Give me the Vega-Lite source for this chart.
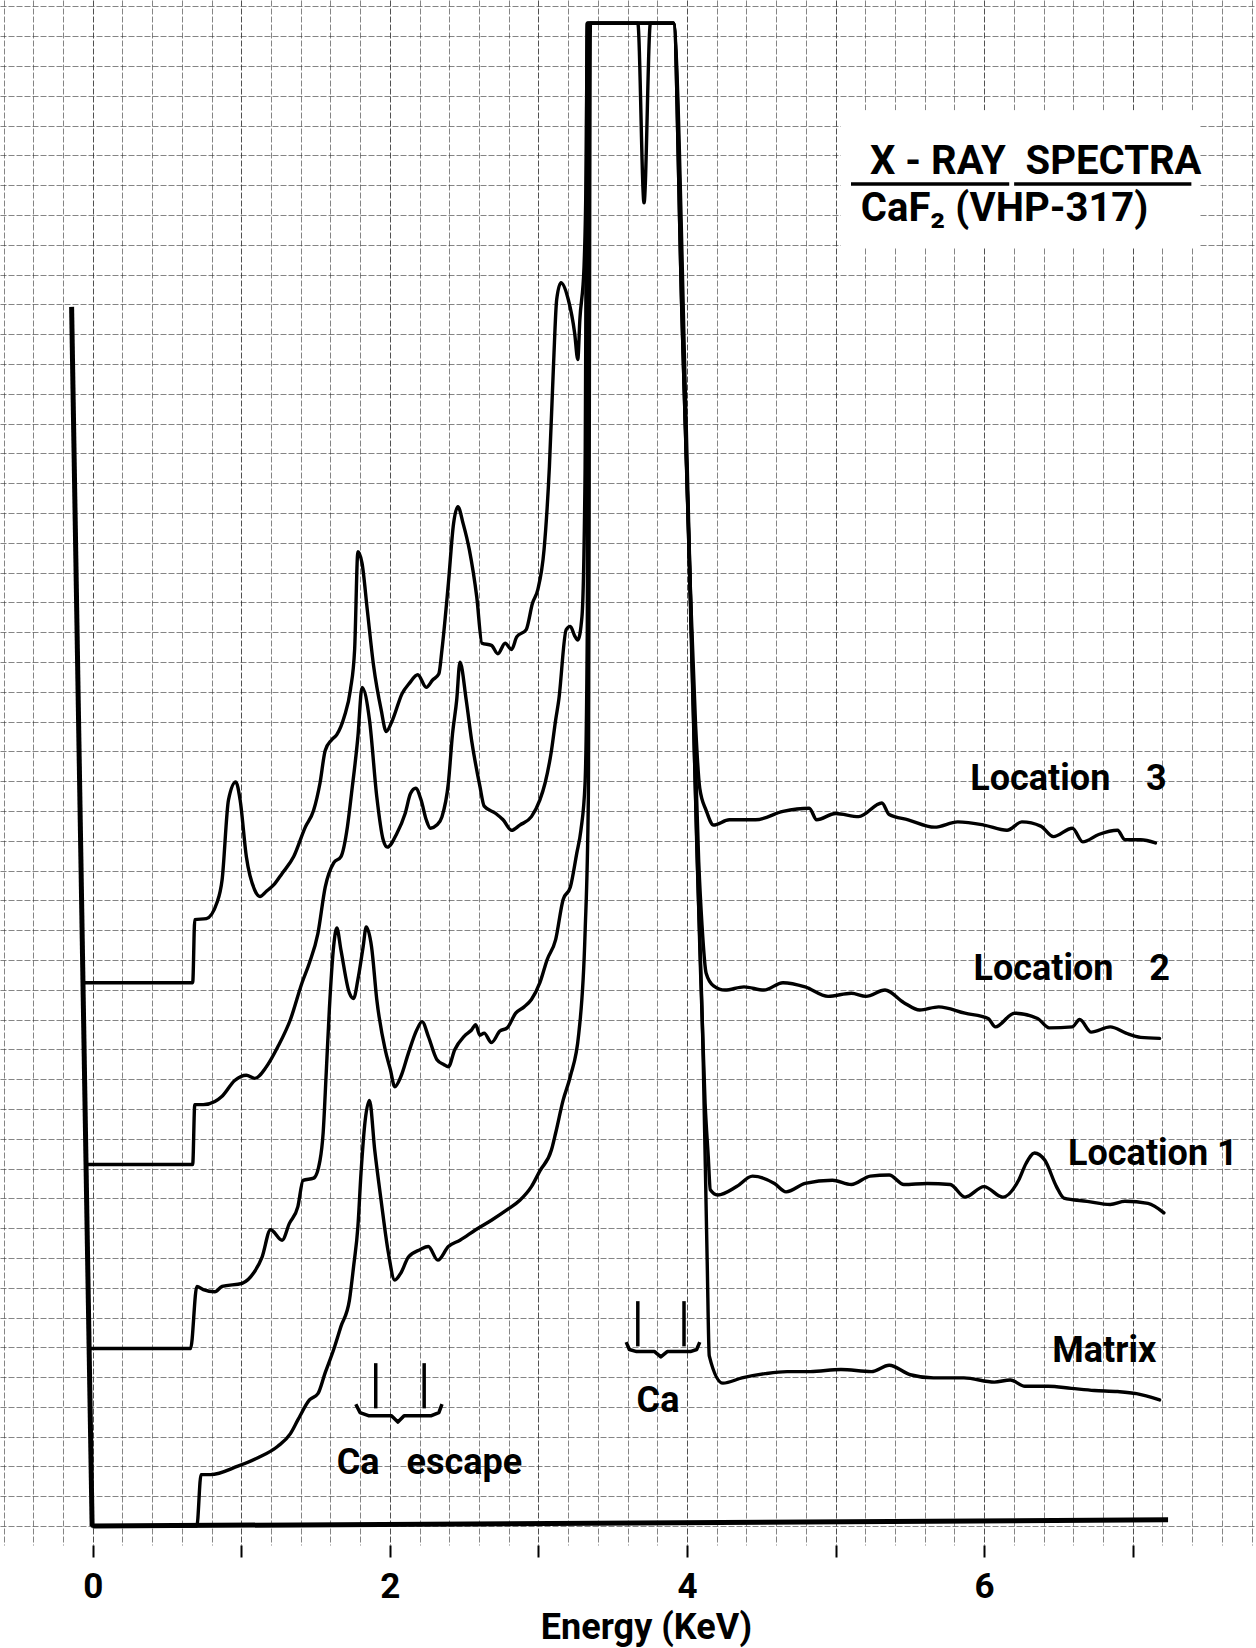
{
"$schema": "https://vega.github.io/schema/vega-lite/v6.json",
"width": 1256, "height": 1545,
"autosize": {"type": "none"},
"padding": {"left": 0, "top": 0, "right": 0, "bottom": 103},
"background": "white",
"config": {"view": {"stroke": null}},
"datasets": {
"box": [{"x": 5.036, "x2": 7.45, "y": 1217, "y2": 1347}],
"traces": [
{"s":"L3","x":-0.067,"y":517},{"s":"L3","x":0.673,"y":517},{"s":"L3","x":0.687,"y":577},{"s":"L3","x":0.765,"y":578},{"s":"L3","x":0.836,"y":593},{"s":"L3","x":0.871,"y":615},{"s":"L3","x":0.914,"y":691},{"s":"L3","x":0.963,"y":708},{"s":"L3","x":0.992,"y":691},{"s":"L3","x":1.034,"y":637},{"s":"L3","x":1.091,"y":605},{"s":"L3","x":1.126,"y":599},{"s":"L3","x":1.169,"y":604},{"s":"L3","x":1.218,"y":610},{"s":"L3","x":1.275,"y":621},{"s":"L3","x":1.353,"y":637},{"s":"L3","x":1.431,"y":665},{"s":"L3","x":1.487,"y":681},{"s":"L3","x":1.530,"y":707},{"s":"L3","x":1.565,"y":738},{"s":"L3","x":1.608,"y":748},{"s":"L3","x":1.643,"y":753},{"s":"L3","x":1.693,"y":770},{"s":"L3","x":1.735,"y":796},{"s":"L3","x":1.763,"y":834},{"s":"L3","x":1.785,"y":927},{"s":"L3","x":1.813,"y":916},{"s":"L3","x":1.848,"y":872},{"s":"L3","x":1.891,"y":818},{"s":"L3","x":1.941,"y":777},{"s":"L3","x":1.976,"y":756},{"s":"L3","x":2.018,"y":767},{"s":"L3","x":2.082,"y":792},{"s":"L3","x":2.132,"y":802},{"s":"L3","x":2.188,"y":810},{"s":"L3","x":2.245,"y":798},{"s":"L3","x":2.288,"y":805},{"s":"L3","x":2.330,"y":811},{"s":"L3","x":2.351,"y":834},{"s":"L3","x":2.394,"y":897},{"s":"L3","x":2.429,"y":954},{"s":"L3","x":2.458,"y":970},{"s":"L3","x":2.493,"y":954},{"s":"L3","x":2.535,"y":929},{"s":"L3","x":2.585,"y":884},{"s":"L3","x":2.620,"y":840},{"s":"L3","x":2.684,"y":838},{"s":"L3","x":2.727,"y":830},{"s":"L3","x":2.776,"y":840},{"s":"L3","x":2.819,"y":834},{"s":"L3","x":2.854,"y":846},{"s":"L3","x":2.918,"y":853},{"s":"L3","x":2.960,"y":878},{"s":"L3","x":2.996,"y":891},{"s":"L3","x":3.038,"y":929},{"s":"L3","x":3.074,"y":1008},{"s":"L3","x":3.102,"y":1106},{"s":"L3","x":3.123,"y":1167},{"s":"L3","x":3.152,"y":1183},{"s":"L3","x":3.201,"y":1167},{"s":"L3","x":3.244,"y":1135},{"s":"L3","x":3.265,"y":1110},{"s":"L3","x":3.279,"y":1148},{"s":"L3","x":3.307,"y":1198},{"s":"L3","x":3.322,"y":1302},{"s":"L3","x":3.329,"y":1430},{"s":"L3","x":3.909,"y":1430},{"s":"L3","x":3.966,"y":1152},{"s":"L3","x":4.023,"y":892},{"s":"L3","x":4.058,"y":762},{"s":"L3","x":4.086,"y":702},{"s":"L3","x":4.129,"y":681},{"s":"L3","x":4.179,"y":667},{"s":"L3","x":4.285,"y":672},{"s":"L3","x":4.462,"y":672},{"s":"L3","x":4.646,"y":680},{"s":"L3","x":4.823,"y":683},{"s":"L3","x":4.873,"y":672},{"s":"L3","x":5.000,"y":678},{"s":"L3","x":5.156,"y":675},{"s":"L3","x":5.312,"y":688},{"s":"L3","x":5.361,"y":677},{"s":"L3","x":5.489,"y":672},{"s":"L3","x":5.666,"y":665},{"s":"L3","x":5.822,"y":670},{"s":"L3","x":5.999,"y":667},{"s":"L3","x":6.154,"y":662},{"s":"L3","x":6.254,"y":670},{"s":"L3","x":6.381,"y":666},{"s":"L3","x":6.466,"y":656},{"s":"L3","x":6.594,"y":664},{"s":"L3","x":6.664,"y":651},{"s":"L3","x":6.771,"y":658},{"s":"L3","x":6.898,"y":662},{"s":"L3","x":6.948,"y":653},{"s":"L3","x":7.054,"y":653},{"s":"L3","x":7.153,"y":650},
{"s":"L2","x":-0.046,"y":344},{"s":"L2","x":0.673,"y":344},{"s":"L2","x":0.687,"y":401},{"s":"L2","x":0.744,"y":401},{"s":"L2","x":0.822,"y":404},{"s":"L2","x":0.871,"y":409},{"s":"L2","x":0.956,"y":424},{"s":"L2","x":1.034,"y":429},{"s":"L2","x":1.091,"y":426},{"s":"L2","x":1.169,"y":437},{"s":"L2","x":1.246,"y":456},{"s":"L2","x":1.331,"y":482},{"s":"L2","x":1.409,"y":517},{"s":"L2","x":1.459,"y":536},{"s":"L2","x":1.516,"y":564},{"s":"L2","x":1.565,"y":608},{"s":"L2","x":1.622,"y":631},{"s":"L2","x":1.671,"y":637},{"s":"L2","x":1.714,"y":665},{"s":"L2","x":1.742,"y":697},{"s":"L2","x":1.785,"y":751},{"s":"L2","x":1.813,"y":798},{"s":"L2","x":1.863,"y":767},{"s":"L2","x":1.912,"y":694},{"s":"L2","x":1.955,"y":653},{"s":"L2","x":1.983,"y":646},{"s":"L2","x":2.047,"y":659},{"s":"L2","x":2.103,"y":678},{"s":"L2","x":2.139,"y":697},{"s":"L2","x":2.174,"y":702},{"s":"L2","x":2.210,"y":691},{"s":"L2","x":2.245,"y":672},{"s":"L2","x":2.273,"y":664},{"s":"L2","x":2.316,"y":667},{"s":"L2","x":2.351,"y":675},{"s":"L2","x":2.394,"y":707},{"s":"L2","x":2.422,"y":754},{"s":"L2","x":2.450,"y":786},{"s":"L2","x":2.472,"y":822},{"s":"L2","x":2.514,"y":786},{"s":"L2","x":2.550,"y":748},{"s":"L2","x":2.606,"y":704},{"s":"L2","x":2.635,"y":685},{"s":"L2","x":2.713,"y":678},{"s":"L2","x":2.762,"y":672},{"s":"L2","x":2.819,"y":662},{"s":"L2","x":2.875,"y":667},{"s":"L2","x":2.953,"y":675},{"s":"L2","x":3.010,"y":691},{"s":"L2","x":3.045,"y":707},{"s":"L2","x":3.088,"y":738},{"s":"L2","x":3.116,"y":767},{"s":"L2","x":3.137,"y":786},{"s":"L2","x":3.187,"y":853},{"s":"L2","x":3.215,"y":856},{"s":"L2","x":3.244,"y":847},{"s":"L2","x":3.265,"y":843},{"s":"L2","x":3.293,"y":865},{"s":"L2","x":3.314,"y":1002},{"s":"L2","x":3.329,"y":1430},{"s":"L2","x":3.909,"y":1430},{"s":"L2","x":3.966,"y":1152},{"s":"L2","x":4.030,"y":852},{"s":"L2","x":4.079,"y":632},{"s":"L2","x":4.101,"y":572},{"s":"L2","x":4.129,"y":526},{"s":"L2","x":4.179,"y":514},{"s":"L2","x":4.256,"y":510},{"s":"L2","x":4.384,"y":513},{"s":"L2","x":4.518,"y":510},{"s":"L2","x":4.646,"y":517},{"s":"L2","x":4.795,"y":513},{"s":"L2","x":4.950,"y":504},{"s":"L2","x":5.106,"y":507},{"s":"L2","x":5.205,"y":504},{"s":"L2","x":5.333,"y":510},{"s":"L2","x":5.460,"y":498},{"s":"L2","x":5.567,"y":491},{"s":"L2","x":5.694,"y":494},{"s":"L2","x":5.871,"y":488},{"s":"L2","x":6.027,"y":483},{"s":"L2","x":6.076,"y":475},{"s":"L2","x":6.204,"y":488},{"s":"L2","x":6.360,"y":483},{"s":"L2","x":6.438,"y":474},{"s":"L2","x":6.594,"y":475},{"s":"L2","x":6.643,"y":482},{"s":"L2","x":6.721,"y":470},{"s":"L2","x":6.849,"y":475},{"s":"L2","x":6.955,"y":469},{"s":"L2","x":7.054,"y":465},{"s":"L2","x":7.181,"y":464},
{"s":"L1","x":-0.025,"y":169},{"s":"L1","x":0.659,"y":169},{"s":"L1","x":0.701,"y":228},{"s":"L1","x":0.744,"y":225},{"s":"L1","x":0.822,"y":223},{"s":"L1","x":0.871,"y":228},{"s":"L1","x":1.006,"y":231},{"s":"L1","x":1.084,"y":241},{"s":"L1","x":1.140,"y":256},{"s":"L1","x":1.197,"y":282},{"s":"L1","x":1.275,"y":272},{"s":"L1","x":1.324,"y":288},{"s":"L1","x":1.381,"y":304},{"s":"L1","x":1.416,"y":329},{"s":"L1","x":1.487,"y":331},{"s":"L1","x":1.530,"y":348},{"s":"L1","x":1.551,"y":374},{"s":"L1","x":1.572,"y":432},{"s":"L1","x":1.593,"y":492},{"s":"L1","x":1.622,"y":552},{"s":"L1","x":1.643,"y":569},{"s":"L1","x":1.671,"y":548},{"s":"L1","x":1.728,"y":507},{"s":"L1","x":1.756,"y":502},{"s":"L1","x":1.785,"y":520},{"s":"L1","x":1.820,"y":551},{"s":"L1","x":1.841,"y":570},{"s":"L1","x":1.877,"y":551},{"s":"L1","x":1.912,"y":501},{"s":"L1","x":1.969,"y":453},{"s":"L1","x":2.004,"y":434},{"s":"L1","x":2.033,"y":418},{"s":"L1","x":2.075,"y":428},{"s":"L1","x":2.125,"y":450},{"s":"L1","x":2.181,"y":472},{"s":"L1","x":2.217,"y":480},{"s":"L1","x":2.259,"y":466},{"s":"L1","x":2.316,"y":444},{"s":"L1","x":2.365,"y":439},{"s":"L1","x":2.394,"y":437},{"s":"L1","x":2.436,"y":453},{"s":"L1","x":2.500,"y":466},{"s":"L1","x":2.550,"y":472},{"s":"L1","x":2.578,"y":477},{"s":"L1","x":2.606,"y":467},{"s":"L1","x":2.635,"y":469},{"s":"L1","x":2.684,"y":460},{"s":"L1","x":2.741,"y":471},{"s":"L1","x":2.790,"y":474},{"s":"L1","x":2.847,"y":488},{"s":"L1","x":2.904,"y":494},{"s":"L1","x":2.953,"y":501},{"s":"L1","x":3.010,"y":517},{"s":"L1","x":3.059,"y":539},{"s":"L1","x":3.116,"y":558},{"s":"L1","x":3.166,"y":596},{"s":"L1","x":3.215,"y":608},{"s":"L1","x":3.258,"y":640},{"s":"L1","x":3.286,"y":662},{"s":"L1","x":3.314,"y":707},{"s":"L1","x":3.329,"y":852},{"s":"L1","x":3.336,"y":1430},{"s":"L1","x":3.909,"y":1430},{"s":"L1","x":3.980,"y":1102},{"s":"L1","x":4.037,"y":802},{"s":"L1","x":4.086,"y":552},{"s":"L1","x":4.122,"y":402},{"s":"L1","x":4.143,"y":352},{"s":"L1","x":4.157,"y":320},{"s":"L1","x":4.207,"y":315},{"s":"L1","x":4.334,"y":323},{"s":"L1","x":4.441,"y":333},{"s":"L1","x":4.589,"y":326},{"s":"L1","x":4.667,"y":318},{"s":"L1","x":4.795,"y":326},{"s":"L1","x":4.979,"y":329},{"s":"L1","x":5.106,"y":325},{"s":"L1","x":5.234,"y":333},{"s":"L1","x":5.361,"y":334},{"s":"L1","x":5.460,"y":325},{"s":"L1","x":5.616,"y":326},{"s":"L1","x":5.772,"y":325},{"s":"L1","x":5.871,"y":313},{"s":"L1","x":5.999,"y":323},{"s":"L1","x":6.126,"y":313},{"s":"L1","x":6.232,"y":329},{"s":"L1","x":6.282,"y":345},{"s":"L1","x":6.339,"y":355},{"s":"L1","x":6.409,"y":348},{"s":"L1","x":6.487,"y":323},{"s":"L1","x":6.537,"y":312},{"s":"L1","x":6.693,"y":309},{"s":"L1","x":6.849,"y":306},{"s":"L1","x":6.948,"y":309},{"s":"L1","x":7.103,"y":307},{"s":"L1","x":7.210,"y":298},
{"s":"M","x":-0.004,"y":0},{"s":"M","x":0.701,"y":0},{"s":"M","x":0.729,"y":49},{"s":"M","x":0.793,"y":49},{"s":"M","x":0.977,"y":57},{"s":"M","x":1.112,"y":65},{"s":"M","x":1.246,"y":76},{"s":"M","x":1.331,"y":88},{"s":"M","x":1.381,"y":101},{"s":"M","x":1.459,"y":120},{"s":"M","x":1.516,"y":126},{"s":"M","x":1.565,"y":146},{"s":"M","x":1.622,"y":168},{"s":"M","x":1.671,"y":190},{"s":"M","x":1.728,"y":215},{"s":"M","x":1.756,"y":247},{"s":"M","x":1.785,"y":285},{"s":"M","x":1.806,"y":336},{"s":"M","x":1.834,"y":386},{"s":"M","x":1.863,"y":405},{"s":"M","x":1.898,"y":358},{"s":"M","x":1.941,"y":310},{"s":"M","x":1.990,"y":260},{"s":"M","x":2.033,"y":234},{"s":"M","x":2.075,"y":241},{"s":"M","x":2.125,"y":256},{"s":"M","x":2.203,"y":263},{"s":"M","x":2.259,"y":266},{"s":"M","x":2.323,"y":253},{"s":"M","x":2.394,"y":266},{"s":"M","x":2.472,"y":272},{"s":"M","x":2.578,"y":282},{"s":"M","x":2.684,"y":291},{"s":"M","x":2.790,"y":301},{"s":"M","x":2.875,"y":310},{"s":"M","x":2.953,"y":323},{"s":"M","x":3.010,"y":338},{"s":"M","x":3.088,"y":358},{"s":"M","x":3.116,"y":374},{"s":"M","x":3.166,"y":405},{"s":"M","x":3.215,"y":428},{"s":"M","x":3.272,"y":469},{"s":"M","x":3.314,"y":564},{"s":"M","x":3.336,"y":691},{"s":"M","x":3.350,"y":1430},{"s":"M","x":3.669,"y":1430},{"s":"M","x":3.711,"y":1259},{"s":"M","x":3.754,"y":1430},{"s":"M","x":3.909,"y":1430},{"s":"M","x":3.994,"y":1052},{"s":"M","x":4.065,"y":652},{"s":"M","x":4.108,"y":452},{"s":"M","x":4.136,"y":252},{"s":"M","x":4.150,"y":162},{"s":"M","x":4.242,"y":136},{"s":"M","x":4.370,"y":141},{"s":"M","x":4.526,"y":145},{"s":"M","x":4.674,"y":147},{"s":"M","x":4.830,"y":147},{"s":"M","x":5.036,"y":149},{"s":"M","x":5.241,"y":147},{"s":"M","x":5.361,"y":153},{"s":"M","x":5.503,"y":144},{"s":"M","x":5.659,"y":141},{"s":"M","x":5.864,"y":141},{"s":"M","x":6.069,"y":137},{"s":"M","x":6.176,"y":139},{"s":"M","x":6.275,"y":133},{"s":"M","x":6.431,"y":133},{"s":"M","x":6.587,"y":131},{"s":"M","x":6.742,"y":129},{"s":"M","x":6.898,"y":128},{"s":"M","x":7.026,"y":126},{"s":"M","x":7.181,"y":120}
],
"thick": [
{"s":"strobe","x":-0.142,"y":1160},{"s":"strobe","x":-0.004,"y":0},
{"s":"base","x":0,"y":0},{"s":"base","x":7.238,"y":6}
],
"annot": [
{"s":"et1","x":1.905,"y":155},{"s":"et1","x":1.905,"y":112},
{"s":"et2","x":2.231,"y":155},{"s":"et2","x":2.231,"y":112},
{"s":"eb","x":1.771,"y":116},{"s":"eb","x":1.799,"y":108},{"s":"eb","x":1.856,"y":105},{"s":"eb","x":2.011,"y":105},{"s":"eb","x":2.054,"y":99},{"s":"eb","x":2.096,"y":105},{"s":"eb","x":2.280,"y":105},{"s":"eb","x":2.330,"y":108},{"s":"eb","x":2.351,"y":116},
{"s":"ct1","x":3.669,"y":214},{"s":"ct1","x":3.669,"y":171},
{"s":"ct2","x":3.980,"y":214},{"s":"ct2","x":3.980,"y":171},
{"s":"cb","x":3.591,"y":175},{"s":"cb","x":3.612,"y":168},{"s":"cb","x":3.661,"y":166},{"s":"cb","x":3.782,"y":166},{"s":"cb","x":3.824,"y":161},{"s":"cb","x":3.867,"y":166},{"s":"cb","x":4.023,"y":166},{"s":"cb","x":4.065,"y":168},{"s":"cb","x":4.086,"y":175},
{"s":"ul1","x":5.104,"y":1277},{"s":"ul1","x":6.169,"y":1277},
{"s":"ul2","x":6.202,"y":1277},{"s":"ul2","x":7.395,"y":1277}
],
"labels": [
{"t":"Location\u00a0\u00a0\u00a0 3","x":5.907,"y":711},
{"t":"Location\u00a0\u00a0\u00a0 2","x":5.928,"y":530},
{"t":"Location 1","x":6.565,"y":354},
{"t":"Matrix","x":6.459,"y":167},
{"t":"Ca\u00a0\u00a0 escape","x":1.643,"y":60},
{"t":"Ca","x":3.661,"y":119}
],
"titles": [
{"t":"X - RAY\u00a0 SPECTRA","x":5.232,"y":1298},
{"t":"CaF\u2082 (VHP-317)","x":5.17,"y":1253}
]
},
"encoding": {
  "x": {"field": "x", "type": "quantitative",
   "scale": {"domain": [-0.624, 7.83], "nice": false, "zero": false},
   "axis": {"values": [-0.6,-0.4,-0.2,0,0.2,0.4,0.6,0.8,1,1.2,1.4,1.6,1.8,2,2.2,2.4,2.6,2.8,3,3.2,3.4,3.6,3.8,4,4.2,4.4,4.6,4.8,5,5.2,5.4,5.6,5.8,6,6.2,6.4,6.6,6.8,7,7.2,7.4,7.6,7.8],
    "grid": true, "gridColor": "#333", "gridDash": [6, 2], "gridWidth": 1,
    "gridOpacity": {"condition": {"test": "abs(datum.value - round(datum.value)) < 0.01", "value": 0.85}, "value": 0.6},
    "ticks": true, "tickSize": 12, "tickWidth": 2,
    "tickColor": {"condition": {"test": "abs(datum.value - round(datum.value)) < 0.01 && datum.value > -0.1 && datum.value < 7.3", "value": "black"}, "value": "transparent"},
    "domain": false,
    "labelExpr": "abs(datum.value - 2*round(datum.value/2)) < 0.01 && datum.value > -0.1 && datum.value < 7 ? format(round(datum.value), 'd') : ''",
    "labelFont": "Roboto", "labelFontSize": 35, "labelFontWeight": "bold", "labelColor": "black",
    "labelPadding": 12, "labelOverlap": false, "labelFlush": false,
    "title": "Energy (KeV)", "titleFont": "Roboto", "titleFontSize": 36, "titleFontWeight": "bold", "titleColor": "black",
    "titlePadding": 6, "titleX": 646}},
  "y": {"field": "y", "type": "quantitative",
   "scale": {"domain": [-18, 1452], "nice": false, "zero": false},
   "axis": {"values": [0,28.35,56.7,85.05,113.4,141.75,170.1,198.45,226.8,255.15,283.5,311.85,340.2,368.55,396.9,425.25,453.6,481.95,510.3,538.65,567,595.35,623.7,652.05,680.4,708.75,737.1,765.45,793.8,822.15,850.5,878.85,907.2,935.55,963.9,992.25,1020.6,1048.95,1077.3,1105.65,1134,1162.35,1190.7,1219.05,1247.4,1275.75,1304.1,1332.45,1360.8,1389.15,1417.5,1445.85],
    "grid": true, "gridColor": "#333", "gridOpacity": 0.6, "gridDash": [6, 2], "gridWidth": 1,
    "ticks": false, "domain": false, "labels": false, "title": null}}
},
"layer": [
{"data": {"name": "box"},
 "mark": {"type": "rect", "color": "white"},
 "encoding": {"x2": {"field": "x2"}, "y2": {"field": "y2"}}},
{"data": {"name": "traces"},
 "mark": {"type": "line", "color": "black", "strokeWidth": 3.4, "strokeJoin": "round", "strokeCap": "round", "interpolate": "monotone"},
 "encoding": {"detail": {"field": "s"}}},
{"data": {"name": "thick"},
 "mark": {"type": "line", "color": "black", "strokeWidth": 5, "strokeCap": "butt"},
 "encoding": {"detail": {"field": "s"}}},
{"data": {"name": "annot"},
 "mark": {"type": "line", "color": "black", "strokeWidth": 3.5, "strokeJoin": "round"},
 "encoding": {"detail": {"field": "s"}}},
{"data": {"name": "labels"},
 "mark": {"type": "text", "align": "left", "baseline": "middle", "font": "Roboto", "fontWeight": "bold", "fontSize": 36, "color": "black"},
 "encoding": {"text": {"field": "t"}}},
{"data": {"name": "titles"},
 "mark": {"type": "text", "align": "left", "baseline": "middle", "font": "Roboto", "fontWeight": "bold", "fontSize": 40, "color": "black"},
 "encoding": {"text": {"field": "t"}}}
]
}
